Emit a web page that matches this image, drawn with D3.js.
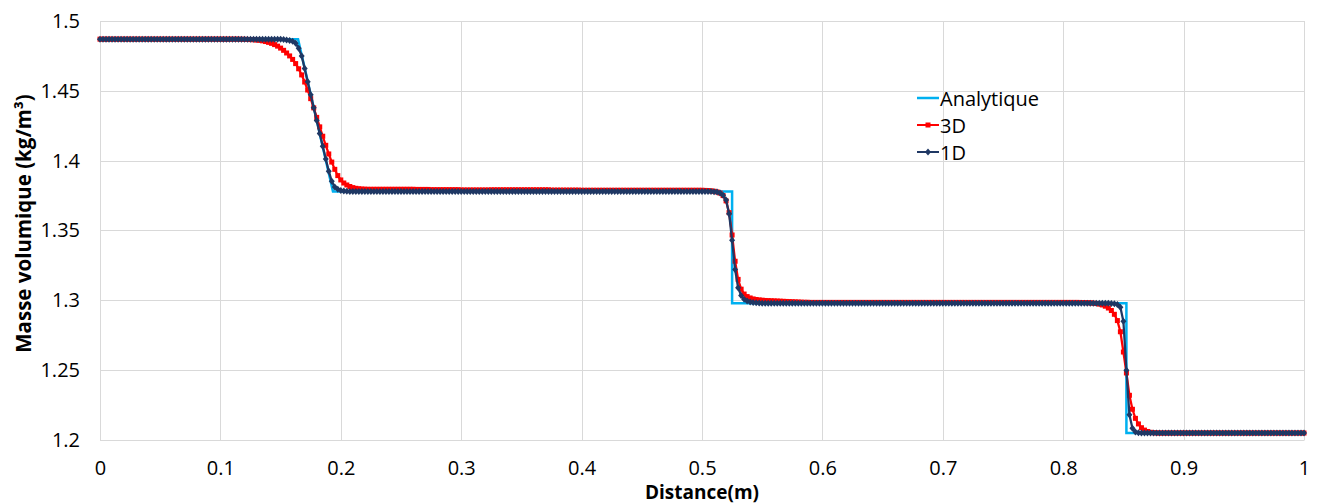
<!DOCTYPE html>
<html><head><meta charset="utf-8">
<script src="https://cdn.jsdelivr.net/npm/d3@7"></script>
<style>
body{margin:0;background:#fff}
svg{display:block}
text{font-family:"Open Sans",sans-serif;fill:#000}
</style>
</head><body>
<svg id="chart" width="1317" height="504"></svg>
<script>
// ---------- DATA ----------
const xTicks = [0, 0.1, 0.2, 0.3, 0.4, 0.5, 0.6, 0.7, 0.8, 0.9, 1];
const xTickLabels = ["0", "0.1", "0.2", "0.3", "0.4", "0.5", "0.6", "0.7", "0.8", "0.9", "1"];
const yTicks = [1.2, 1.25, 1.3, 1.35, 1.4, 1.45, 1.5];
const yTickLabels = ["1.2", "1.25", "1.3", "1.35", "1.4", "1.45", "1.5"];
const seriesNames = ["Analytique", "3D", "1D"];

// analytical solution (breakpoints)
const analytiqueX = [0, 0.1645, 0.1935, 0.525, 0.525, 0.8525, 0.8525, 1];
const analytiqueY = [1.487, 1.487, 1.378, 1.378, 1.298, 1.298, 1.205, 1.205];

// numerical results on the mesh, spacing 0.0025 m (401 nodes), 10 values per row
const meshStep = 0.0025;
const values3D = [
1.487,1.487,1.487,1.487,1.487,1.487,1.487,1.487,1.487,1.487, // 0.000
1.487,1.487,1.487,1.487,1.487,1.487,1.487,1.487,1.487,1.487, // 0.025
1.487,1.487,1.487,1.487,1.487,1.487,1.487,1.487,1.487,1.487, // 0.050
1.487,1.487,1.487,1.487,1.487,1.487,1.487,1.487,1.487,1.487, // 0.075
1.487,1.487,1.487,1.487,1.487,1.487,1.487,1.4869,1.4869,1.4868, // 0.100
1.4867,1.4866,1.4864,1.4862,1.4858,1.4853,1.4847,1.4840,1.4831,1.4820, // 0.125
1.4806,1.4790,1.4771,1.4750,1.4725,1.4695,1.4658,1.4614,1.4563,1.4506, // 0.150
1.4444,1.4378,1.4310,1.4242,1.4175,1.4110,1.4048,1.3990,1.3938,1.3893, // 0.175
1.3862,1.3840,1.3826,1.3815,1.3807,1.3802,1.3799,1.3797,1.3796,1.3795, // 0.200
1.3795,1.3795,1.3795,1.3795,1.3795,1.3795,1.3795,1.3795,1.3795,1.3795, // 0.225
1.3795,1.3795,1.3795,1.3795,1.3795,1.3794,1.3794,1.3794,1.3794,1.3794, // 0.250
1.3792,1.3792,1.3792,1.3792,1.3792,1.3792,1.3792,1.3792,1.3792,1.3792, // 0.275
1.3790,1.3790,1.3790,1.3790,1.3790,1.3790,1.3790,1.3790,1.3790,1.3790, // 0.300
1.3791,1.3791,1.3791,1.3791,1.3791,1.3791,1.3791,1.3791,1.3791,1.3791, // 0.325
1.3791,1.3791,1.3791,1.3791,1.3791,1.3791,1.3791,1.3791,1.3791,1.3791, // 0.350
1.3789,1.3789,1.3789,1.3789,1.3789,1.3789,1.3789,1.3789,1.3789,1.3789, // 0.375
1.3788,1.3788,1.3788,1.3788,1.3788,1.3788,1.3788,1.3788,1.3788,1.3788, // 0.400
1.3788,1.3788,1.3788,1.3788,1.3788,1.3788,1.3788,1.3788,1.3788,1.3788, // 0.425
1.3788,1.3788,1.3788,1.3788,1.3788,1.3788,1.3788,1.3788,1.3788,1.3788, // 0.450
1.3788,1.3788,1.3788,1.3788,1.3788,1.3788,1.3788,1.3788,1.3788,1.3788, // 0.475
1.3788,1.3787,1.3786,1.3784,1.3781,1.3776,1.3768,1.3750,1.3712,1.3628, // 0.500
1.3468,1.3280,1.3150,1.3080,1.3045,1.3027,1.3017,1.3010,1.3006,1.3003, // 0.525
1.3001,1.2999,1.2998,1.2997,1.2996,1.2995,1.2994,1.2993,1.2992,1.2991, // 0.550
1.2990,1.2989,1.2988,1.2987,1.2986,1.2986,1.2985,1.2985,1.2985,1.2985, // 0.575
1.2985,1.2985,1.2985,1.2985,1.2985,1.2985,1.2985,1.2985,1.2985,1.2985, // 0.600
1.2985,1.2985,1.2985,1.2985,1.2985,1.2985,1.2985,1.2985,1.2985,1.2985, // 0.625
1.2985,1.2985,1.2985,1.2985,1.2985,1.2985,1.2985,1.2985,1.2985,1.2985, // 0.650
1.2985,1.2985,1.2985,1.2985,1.2985,1.2985,1.2985,1.2985,1.2985,1.2985, // 0.675
1.2985,1.2985,1.2985,1.2985,1.2985,1.2985,1.2985,1.2985,1.2985,1.2985, // 0.700
1.2985,1.2985,1.2985,1.2985,1.2985,1.2985,1.2985,1.2985,1.2985,1.2985, // 0.725
1.2985,1.2985,1.2985,1.2985,1.2985,1.2985,1.2985,1.2985,1.2985,1.2985, // 0.750
1.2985,1.2985,1.2985,1.2985,1.2985,1.2985,1.2985,1.2985,1.2985,1.2985, // 0.775
1.2985,1.2985,1.2985,1.2985,1.2985,1.2985,1.2984,1.2984,1.2983,1.2982, // 0.800
1.2980,1.2977,1.2973,1.2967,1.2958,1.2945,1.2927,1.2900,1.2855,1.2775, // 0.825
1.2630,1.2480,1.2320,1.2220,1.2155,1.2115,1.2088,1.2071,1.2061,1.2055, // 0.850
1.2052,1.2051,1.205,1.205,1.205,1.205,1.205,1.205,1.205,1.205, // 0.875
1.205,1.205,1.205,1.205,1.205,1.205,1.205,1.205,1.205,1.205, // 0.900
1.205,1.205,1.205,1.205,1.205,1.205,1.205,1.205,1.205,1.205, // 0.925
1.205,1.205,1.205,1.205,1.205,1.205,1.205,1.205,1.205,1.205, // 0.950
1.205,1.205,1.205,1.205,1.205,1.205,1.205,1.205,1.205,1.205, // 0.975
1.205 // 1.000
];
const values1D = [
1.487,1.487,1.487,1.487,1.487,1.487,1.487,1.487,1.487,1.487, // 0.000
1.487,1.487,1.487,1.487,1.487,1.487,1.487,1.487,1.487,1.487, // 0.025
1.487,1.487,1.487,1.487,1.487,1.487,1.487,1.487,1.487,1.487, // 0.050
1.487,1.487,1.487,1.487,1.487,1.487,1.487,1.487,1.487,1.487, // 0.075
1.487,1.487,1.487,1.487,1.487,1.487,1.487,1.487,1.487,1.487, // 0.100
1.487,1.487,1.487,1.487,1.487,1.487,1.487,1.487,1.487,1.487, // 0.125
1.4869,1.4867,1.4864,1.4861,1.4855,1.4840,1.4805,1.4750,1.4660,1.4565, // 0.150
1.4472,1.4379,1.4287,1.4195,1.4103,1.4012,1.3925,1.3852,1.3812,1.3795, // 0.175
1.3787,1.3783,1.3781,1.378,1.378,1.378,1.378,1.378,1.378,1.378, // 0.200
1.378,1.378,1.378,1.378,1.378,1.378,1.378,1.378,1.378,1.378, // 0.225
1.378,1.378,1.378,1.378,1.378,1.378,1.378,1.378,1.378,1.378, // 0.250
1.378,1.378,1.378,1.378,1.378,1.378,1.378,1.378,1.378,1.378, // 0.275
1.378,1.378,1.378,1.378,1.378,1.378,1.378,1.378,1.378,1.378, // 0.300
1.378,1.378,1.378,1.378,1.378,1.378,1.378,1.378,1.378,1.378, // 0.325
1.378,1.378,1.378,1.378,1.378,1.378,1.378,1.378,1.378,1.378, // 0.350
1.378,1.378,1.378,1.378,1.378,1.378,1.378,1.378,1.378,1.378, // 0.375
1.378,1.378,1.378,1.378,1.378,1.378,1.378,1.378,1.378,1.378, // 0.400
1.378,1.378,1.378,1.378,1.378,1.378,1.378,1.378,1.378,1.378, // 0.425
1.378,1.378,1.378,1.378,1.378,1.378,1.378,1.378,1.378,1.378, // 0.450
1.378,1.378,1.378,1.378,1.378,1.378,1.378,1.378,1.378,1.378, // 0.475
1.378,1.378,1.3779,1.3779,1.3778,1.3775,1.3768,1.3752,1.3718,1.3620, // 0.500
1.3430,1.3220,1.3090,1.3035,1.3008,1.2995,1.2988,1.2984,1.2982,1.2981, // 0.525
1.298,1.298,1.298,1.298,1.298,1.298,1.298,1.298,1.298,1.298, // 0.550
1.298,1.298,1.298,1.298,1.298,1.298,1.298,1.298,1.298,1.298, // 0.575
1.298,1.298,1.298,1.298,1.298,1.298,1.298,1.298,1.298,1.298, // 0.600
1.298,1.298,1.298,1.298,1.298,1.298,1.298,1.298,1.298,1.298, // 0.625
1.298,1.298,1.298,1.298,1.298,1.298,1.298,1.298,1.298,1.298, // 0.650
1.298,1.298,1.298,1.298,1.298,1.298,1.298,1.298,1.298,1.298, // 0.675
1.298,1.298,1.298,1.298,1.298,1.298,1.298,1.298,1.298,1.298, // 0.700
1.298,1.298,1.298,1.298,1.298,1.298,1.298,1.298,1.298,1.298, // 0.725
1.298,1.298,1.298,1.298,1.298,1.298,1.298,1.298,1.298,1.298, // 0.750
1.298,1.298,1.298,1.298,1.298,1.298,1.298,1.298,1.298,1.298, // 0.775
1.298,1.298,1.298,1.298,1.298,1.298,1.298,1.298,1.298,1.298, // 0.800
1.298,1.298,1.298,1.298,1.298,1.2979,1.2978,1.2976,1.2970,1.2950, // 0.825
1.2850,1.2500,1.2180,1.2085,1.2058,1.2052,1.2050,1.205,1.205,1.205, // 0.850
1.205,1.205,1.205,1.205,1.205,1.205,1.205,1.205,1.205,1.205, // 0.875
1.205,1.205,1.205,1.205,1.205,1.205,1.205,1.205,1.205,1.205, // 0.900
1.205,1.205,1.205,1.205,1.205,1.205,1.205,1.205,1.205,1.205, // 0.925
1.205,1.205,1.205,1.205,1.205,1.205,1.205,1.205,1.205,1.205, // 0.950
1.205,1.205,1.205,1.205,1.205,1.205,1.205,1.205,1.205,1.205, // 0.975
1.205 // 1.000
];

// ---------- CHART ----------
const svg = d3.select("#chart");
const W = 1317, H = 504;
const plot = {left: 100, right: 1304, top: 21, bottom: 440};
const x = d3.scaleLinear().domain([0, 1]).range([plot.left, plot.right]);
const y = d3.scaleLinear().domain([1.2, 1.5]).range([plot.bottom, plot.top]);

const colors = {"Analytique": "#00b0f0", "3D": "#ff0000", "1D": "#1f3864"};

svg.append("rect").attr("width", W).attr("height", H).attr("fill", "#fff");

// gridlines
const grid = svg.append("g");
grid.selectAll("line.h").data(yTicks).join("line")
  .attr("x1", plot.left).attr("x2", plot.right)
  .attr("y1", d => Math.round(y(d)) + 0.5).attr("y2", d => Math.round(y(d)) + 0.5)
  .attr("stroke", "#d9d9d9").attr("stroke-width", 1);
grid.selectAll("line.v").data(xTicks).join("line")
  .attr("y1", plot.top).attr("y2", plot.bottom)
  .attr("x1", d => Math.round(x(d)) + 0.5).attr("x2", d => Math.round(x(d)) + 0.5)
  .attr("stroke", "#d9d9d9").attr("stroke-width", 1);

// axes (labels via d3 axis)
const yAxis = d3.axisLeft(y).tickValues(yTicks).tickFormat((d, i) => yTickLabels[i]).tickSize(0).tickPadding(20);
const gy = svg.append("g").attr("transform", `translate(${plot.left},0)`).call(yAxis);
gy.select(".domain").remove();
gy.selectAll("text").attr("font-size", 20).attr("font-family", "Open Sans");

const xAxis = d3.axisBottom(x).tickValues(xTicks).tickFormat((d, i) => xTickLabels[i]).tickSize(0).tickPadding(21);
const gx = svg.append("g").attr("transform", `translate(0,${plot.bottom})`).call(xAxis);
gx.select(".domain").attr("stroke", "#d9d9d9");
gx.selectAll("text").attr("font-size", 20).attr("font-family", "Open Sans");

// axis titles
svg.append("text")
  .attr("transform", `translate(23,${(plot.top + plot.bottom) / 2 - 7}) rotate(-90)`)
  .attr("text-anchor", "middle").attr("dominant-baseline", "central")
  .attr("font-size", 20.5).attr("font-weight", "bold")
  .text("Masse volumique (kg/m³)");
svg.append("text")
  .attr("x", (plot.left + plot.right) / 2).attr("y", 492)
  .attr("text-anchor", "middle").attr("dominant-baseline", "central")
  .attr("font-size", 19).attr("font-weight", "bold")
  .text("Distance(m)");

// series
const line = d3.line().x(d => x(d[0])).y(d => y(d[1]));
const anaPts = analytiqueX.map((v, i) => [v, analytiqueY[i]]);
const pts3D = values3D.map((v, i) => [i * meshStep, v]);
const pts1D = values1D.map((v, i) => [i * meshStep, v]);

svg.append("path").datum(anaPts).attr("d", line)
  .attr("fill", "none").attr("stroke", colors["Analytique"]).attr("stroke-width", 2.5);

svg.append("path").datum(pts3D).attr("d", line)
  .attr("fill", "none").attr("stroke", colors["3D"]).attr("stroke-width", 2.25);
svg.append("g").selectAll("rect").data(pts3D).join("rect")
  .attr("x", d => x(d[0]) - 2.5).attr("y", d => y(d[1]) - 2.5)
  .attr("width", 5).attr("height", 5).attr("fill", colors["3D"]);

svg.append("path").datum(pts1D).attr("d", line)
  .attr("fill", "none").attr("stroke", colors["1D"]).attr("stroke-width", 2.25);
const diamond = (cx, cy) => `M${cx},${cy - 3.5}L${cx + 3},${cy}L${cx},${cy + 3.5}L${cx - 3},${cy}Z`;
svg.append("g").selectAll("path").data(pts1D).join("path")
  .attr("d", d => diamond(x(d[0]), y(d[1]))).attr("fill", colors["1D"]);

// legend
const leg = svg.append("g");
const legRows = [98, 125, 152];
seriesNames.forEach((name, i) => {
  const yy = legRows[i];
  leg.append("line").attr("x1", 917).attr("x2", 939).attr("y1", yy).attr("y2", yy)
    .attr("stroke", colors[name]).attr("stroke-width", name === "Analytique" ? 2.5 : 2);
  if (name === "3D") leg.append("rect").attr("x", 925.5).attr("y", yy - 2.5).attr("width", 5).attr("height", 5).attr("fill", colors[name]);
  if (name === "1D") leg.append("path").attr("d", diamond(928, yy)).attr("fill", colors[name]);
  leg.append("text").attr("x", 940).attr("y", yy).attr("dominant-baseline", "central")
    .attr("font-size", 20).text(name);
});
</script>
</body></html>
